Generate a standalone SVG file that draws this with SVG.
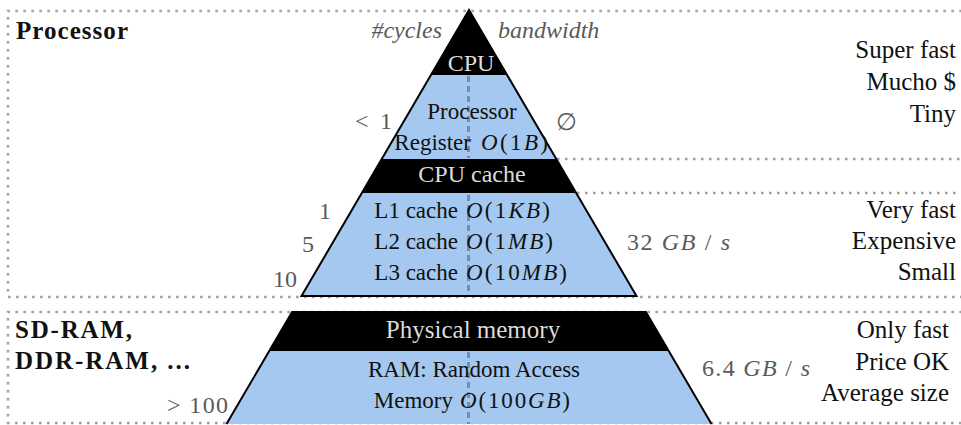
<svg xmlns="http://www.w3.org/2000/svg" width="961" height="425" viewBox="0 0 961 425">
<style>
.t{font-family:"Liberation Serif","Times New Roman",serif;fill:#111}
.b{font-weight:bold;font-size:25px}
.r{font-size:25px;text-anchor:end}
.in{font-size:23px}
.w{fill:#dcdcdc;font-size:24px;text-anchor:middle}
.g{fill:#5a5a5a;font-size:24px}
.i{font-style:italic}
.e{text-anchor:end}
.m{text-anchor:middle}
.dot{fill:none;stroke:#a3a3a3;stroke-width:2.6;stroke-dasharray:2.6 5.4}
.blue{fill:#a4c8ef}
.blk{fill:#000}
.edge{fill:none;stroke:#000;stroke-width:2;stroke-linejoin:miter}
.axis{stroke:#6f8fb8;stroke-width:3;stroke-dasharray:6 4;fill:none}
</style>
<rect width="961" height="425" fill="#fff"/>
<g id="guides">
<path class="dot" d="M970 11H8V297H970"/>
<path class="dot" d="M970 312H8V423H970"/>
<path class="dot" d="M557 159H961M577 193H961"/>
</g>
<g id="layer-cpu">
<polygon class="blue" points="469,10 301.5,296 636.5,296"/>
<polygon class="blk" points="469,10 430.9,75 507.1,75"/>
<text class="t w" x="471" y="71">CPU</text>
</g>
<g id="layer-cache">
<polygon class="blk" points="381.7,159 556.3,159 576.2,193 361.8,193"/>
<text class="t w" x="472" y="182">CPU cache</text>
</g>
<g id="layer-memory">
<polygon class="blue" points="292.1,312 645.9,312 711.5,424 226.5,424"/>
<polygon class="blk" points="292.1,312 645.9,312 668.7,351 269.3,351"/>
<text class="t w" x="473" y="338" style="font-size:25px">Physical memory</text>
</g>
<g id="connectors">
<path class="axis" d="M468.5 76V158M468.5 195V295M468.5 352V424"/>
</g>
<g id="outline">
<polygon class="edge" points="469,10 301.5,296 636.5,296"/>
<path class="edge" d="M226.5 424L292.1 312H645.9L711.5 424"/>
</g>
<g id="register">
<text class="t in m" x="472" y="119">Processor</text>
<text class="t in e" x="471" y="150">Register</text>
<text class="t in" x="481" y="150" textLength="67"><tspan class="i">O</tspan>(1<tspan class="i">B</tspan>)</text>
</g>
<g id="caches">
<text class="t in e" x="458" y="218">L1 cache</text>
<text class="t in" x="466" y="218" textLength="84"><tspan class="i">O</tspan>(1<tspan class="i">KB</tspan>)</text>
<text class="t in e" x="458" y="249">L2 cache</text>
<text class="t in" x="466" y="249" textLength="87"><tspan class="i">O</tspan>(1<tspan class="i">MB</tspan>)</text>
<text class="t in e" x="458" y="280">L3 cache</text>
<text class="t in" x="466" y="280" textLength="101"><tspan class="i">O</tspan>(10<tspan class="i">MB</tspan>)</text>
</g>
<g id="ram">
<text class="t in m" x="474" y="377">RAM: Random Access</text>
<text class="t in e" x="453" y="408">Memory</text>
<text class="t in" x="460" y="408" textLength="110"><tspan class="i">O</tspan>(100<tspan class="i">GB</tspan>)</text>
</g>
<g id="gray-labels">
<text class="t g i e" x="442" y="38">#cycles</text>
<text class="t g i" x="498" y="38">bandwidth</text>
<text class="t g" x="355" y="129" textLength="37">&lt; 1</text>
<text class="t g" x="556" y="130">∅</text>
<text class="t g e" x="331" y="219">1</text>
<text class="t g e" x="314" y="252">5</text>
<text class="t g e" x="297" y="287">10</text>
<text class="t g" x="627" y="250" textLength="103">32 <tspan class="i">GB</tspan> / <tspan class="i">s</tspan></text>
<text class="t g" x="167" y="413" textLength="61">&gt; 100</text>
<text class="t g" x="702" y="376" textLength="108">6.4 <tspan class="i">GB</tspan> / <tspan class="i">s</tspan></text>
</g>
<g id="side-labels">
<text class="t b" x="16" y="39" textLength="112">Processor</text>
<text class="t b" x="15" y="338" textLength="117">SD-RAM,</text>
<text class="t b" x="15" y="369" textLength="175">DDR-RAM, ...</text>
</g>
<g id="properties">
<text class="t r" x="956" y="58">Super fast</text>
<text class="t r" x="956" y="90">Mucho $</text>
<text class="t r" x="956" y="122">Tiny</text>
<text class="t r" x="956" y="218">Very fast</text>
<text class="t r" x="956" y="249">Expensive</text>
<text class="t r" x="956" y="280">Small</text>
<text class="t r" x="949" y="338">Only fast</text>
<text class="t r" x="949" y="370">Price OK</text>
<text class="t r" x="949" y="401">Average size</text>
</g>
</svg>
